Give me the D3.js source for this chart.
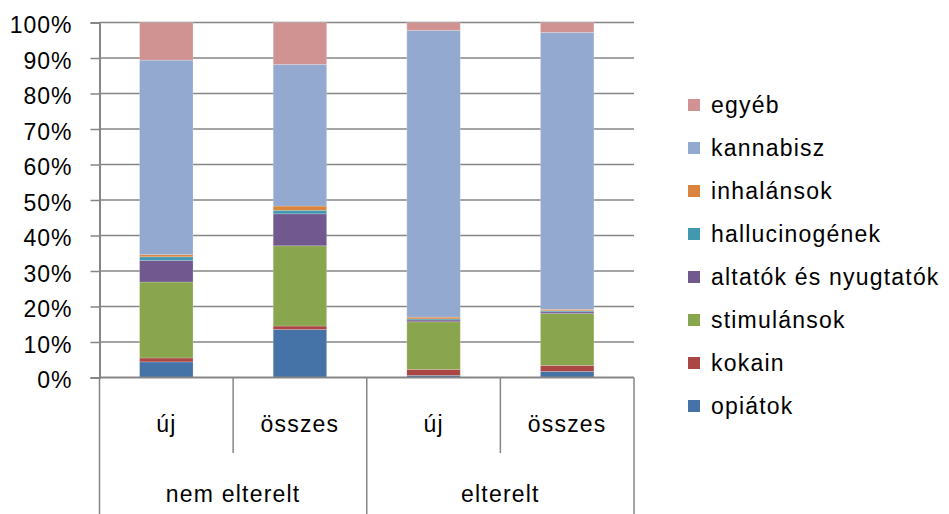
<!DOCTYPE html>
<html>
<head>
<meta charset="utf-8">
<script src="https://cdn.jsdelivr.net/npm/d3@7"></script>
<style>
  html, body { margin: 0; padding: 0; background: #fff; }
  svg { display: block; font-family: "Liberation Sans", Arial, sans-serif; }
</style>
</head>
<body>
<svg id="chart" width="949" height="514"></svg>
<script>
// Categories (inner level) and their groups (outer level)
const categories = ["új", "összes", "új", "összes"];
const groups = ["nem elterelt", "elterelt"];
const groupOf = [0, 0, 1, 1];

// Share of each substance (%), one value per column
const opiatok        = [4.4, 13.5, 0.6, 1.7];
const kokain         = [1.1, 1.0, 1.7, 1.7];
const stimulansok    = [21.4, 22.6, 13.4, 14.6];
const altatok        = [6.1, 9.0, 0.5, 0.5];
const hallucinogenek = [1.0, 1.0, 0.3, 0.3];
const inhalansok     = [0.6, 1.2, 0.5, 0.4];
const kannabisz      = [54.8, 39.9, 80.8, 78.0];
const egyeb          = [10.6, 11.8, 2.2, 2.8];

const seriesNames = ["opiátok", "kokain", "stimulánsok", "altatók és nyugtatók",
                     "hallucinogének", "inhalánsok", "kannabisz", "egyéb"];
const seriesValues = [opiatok, kokain, stimulansok, altatok,
                      hallucinogenek, inhalansok, kannabisz, egyeb];
const colors = ["#4572A7", "#AA4643", "#89A54E", "#71588F",
                "#4198AF", "#DB843D", "#93A9CF", "#D19392"];

const yTicks = [0, 10, 20, 30, 40, 50, 60, 70, 80, 90, 100];

// Build a table for d3.stack
const table = categories.map((c, i) => {
  const row = { idx: i };
  seriesNames.forEach((s, k) => { row[s] = seriesValues[k][i]; });
  return row;
});

const svg = d3.select("#chart");
const plotLeft = 99.5, plotRight = 634, plotTop = 22.5, plotBottom = 377.5;
const axisColor = "#868686";
const fontSize = 23;

const x = d3.scaleBand()
  .domain(d3.range(categories.length))
  .range([plotLeft, plotRight])
  .paddingInner(0.6)
  .paddingOuter(0.3);

const y = d3.scaleLinear().domain([0, 100]).range([plotBottom, plotTop]);

// Horizontal gridlines
svg.append("g").selectAll("line")
  .data(yTicks.filter(t => t > 0))
  .join("line")
  .attr("x1", plotLeft).attr("x2", plotRight)
  .attr("y1", d => y(d)).attr("y2", d => y(d))
  .attr("stroke", axisColor).attr("stroke-width", 1.5);

// Stacked bars
const stacked = d3.stack().keys(seriesNames)(table);
svg.append("g").selectAll("g")
  .data(stacked)
  .join("g")
  .attr("fill", (d, k) => colors[k])
  .selectAll("rect")
  .data(d => d)
  .join("rect")
  .attr("x", d => x(d.data.idx))
  .attr("width", x.bandwidth())
  .attr("y", d => y(d[1]))
  .attr("height", d => y(d[0]) - y(d[1]))
  .attr("stroke", "rgba(255,255,255,0.25)")
  .attr("stroke-width", 0.8);

// Y axis
const yAxis = d3.axisLeft(y)
  .tickValues(yTicks)
  .tickFormat(d => d + "%")
  .tickSize(9)
  .tickPadding(18);
const gy = svg.append("g").attr("transform", `translate(${plotLeft},0)`).call(yAxis);
gy.select(".domain").attr("stroke", axisColor).attr("stroke-width", 2);
gy.selectAll(".tick line").attr("stroke", axisColor).attr("stroke-width", 1.5);
gy.selectAll(".tick text")
  .attr("font-size", fontSize)
  .attr("font-family", "Liberation Sans, Arial, sans-serif")
  .attr("fill", "#000")
  .attr("letter-spacing", 1)
  .attr("dy", "0.45em");

// X axis: baseline, dividers and two-level labels
const gx = svg.append("g");
gx.append("line")
  .attr("x1", plotLeft).attr("x2", plotRight)
  .attr("y1", plotBottom).attr("y2", plotBottom)
  .attr("stroke", axisColor).attr("stroke-width", 2);

const step = x.step();
// dividers: full height at group edges, shorter between categories of a group
d3.range(categories.length + 1).forEach(i => {
  const xx = plotLeft + i * step;
  const isGroupEdge = i === 0 || i === categories.length || groupOf[i] !== groupOf[i - 1];
  gx.append("line")
    .attr("x1", xx).attr("x2", xx)
    .attr("y1", plotBottom).attr("y2", isGroupEdge ? 514 : 453)
    .attr("stroke", axisColor).attr("stroke-width", 1.5);
});

gx.selectAll("text.cat")
  .data(categories)
  .join("text")
  .attr("class", "cat")
  .attr("x", (d, i) => x(i) + x.bandwidth() / 2)
  .attr("y", 424)
  .attr("text-anchor", "middle")
  .attr("dominant-baseline", "central")
  .attr("font-size", fontSize)
  .attr("letter-spacing", 1.2)
  .text(d => d);

gx.selectAll("text.grp")
  .data(groups)
  .join("text")
  .attr("class", "grp")
  .attr("x", (d, g) => {
    const idx = d3.range(categories.length).filter(i => groupOf[i] === g);
    return plotLeft + (d3.min(idx) + d3.max(idx) + 1) / 2 * step;
  })
  .attr("y", 494)
  .attr("text-anchor", "middle")
  .attr("dominant-baseline", "central")
  .attr("font-size", fontSize)
  .attr("letter-spacing", 1.2)
  .text(d => d);

// Legend (top item is the top of the stack)
const legendOrder = d3.range(seriesNames.length).reverse();
const lg = svg.append("g");
const items = lg.selectAll("g")
  .data(legendOrder)
  .join("g")
  .attr("transform", (k, j) => `translate(688,${105 + j * 43})`);
items.append("rect")
  .attr("x", 0).attr("y", -6)
  .attr("width", 12).attr("height", 12)
  .attr("fill", k => colors[k]);
items.append("text")
  .attr("x", 23).attr("y", 0)
  .attr("dominant-baseline", "central")
  .attr("font-size", fontSize)
  .attr("letter-spacing", 1.2)
  .text(k => seriesNames[k]);
</script>
</body>
</html>
